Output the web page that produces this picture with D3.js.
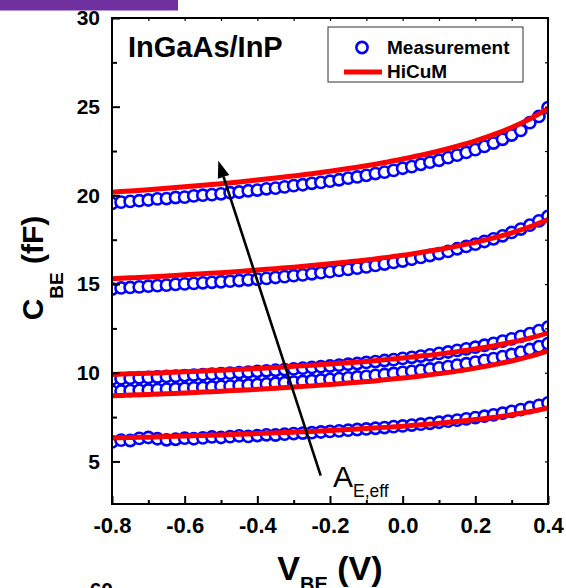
<!DOCTYPE html>
<html>
<head>
<meta charset="utf-8">
<script src="https://cdn.jsdelivr.net/npm/d3@7/dist/d3.min.js"></script>
<style>
  html, body { margin: 0; padding: 0; background: #fff; }
  svg { display: block; }
  text { font-family: "Liberation Sans", Arial, Helvetica, sans-serif; }
</style>
</head>
<body>
<svg id="chart" width="566" height="588"></svg>
<script>
// ---------- DATA ----------
const vMeas = [-0.8,-0.775,-0.75,-0.725,-0.7,-0.675,-0.65,-0.625,-0.6,-0.575,-0.55,-0.525,-0.5,-0.475,-0.45,-0.425,-0.4,-0.375,-0.35,-0.325,-0.3,-0.275,-0.25,-0.225,-0.2,-0.175,-0.15,-0.125,-0.1,-0.075,-0.05,-0.025,0,0.025,0.05,0.075,0.1,0.125,0.15,0.175,0.2,0.225,0.25,0.275,0.3,0.325,0.35,0.375,0.4];

const measA = [19.55,19.62,19.66,19.70,19.74,19.80,19.82,19.88,19.90,19.97,20.01,20.04,20.09,20.15,20.19,20.26,20.30,20.37,20.41,20.48,20.55,20.60,20.68,20.73,20.80,20.88,20.97,21.04,21.13,21.23,21.31,21.41,21.53,21.62,21.75,21.87,21.98,22.13,22.27,22.42,22.58,22.76,22.95,23.16,23.40,23.66,24.10,24.45,24.95];
const measB = [14.72,14.78,14.81,14.84,14.88,14.91,14.94,14.98,15.01,15.04,15.07,15.10,15.13,15.16,15.20,15.24,15.28,15.32,15.37,15.42,15.47,15.52,15.58,15.64,15.70,15.77,15.83,15.90,15.97,16.05,16.13,16.22,16.30,16.40,16.50,16.61,16.72,16.84,16.99,17.12,17.25,17.40,17.55,17.72,17.91,18.10,18.32,18.56,18.82];
const measC = [9.65,9.67,9.69,9.72,9.74,9.76,9.79,9.81,9.84,9.87,9.89,9.92,9.95,9.98,10.01,10.04,10.08,10.11,10.14,10.18,10.22,10.26,10.30,10.34,10.38,10.43,10.48,10.52,10.58,10.63,10.69,10.74,10.81,10.87,10.94,11.01,11.09,11.17,11.26,11.35,11.44,11.55,11.66,11.78,11.91,12.05,12.21,12.38,12.57];
const measD = [8.95,8.97,8.99,9.01,9.03,9.05,9.08,9.10,9.12,9.15,9.17,9.20,9.23,9.25,9.28,9.31,9.34,9.37,9.41,9.44,9.47,9.51,9.55,9.59,9.63,9.67,9.71,9.76,9.80,9.85,9.90,9.96,10.02,10.08,10.14,10.21,10.28,10.35,10.43,10.51,10.60,10.70,10.80,10.91,11.03,11.16,11.31,11.47,11.64];
const measE = [6.10,6.20,6.18,6.30,6.35,6.28,6.22,6.25,6.31,6.28,6.33,6.38,6.35,6.40,6.44,6.41,6.46,6.50,6.49,6.54,6.57,6.60,6.62,6.66,6.69,6.72,6.76,6.80,6.83,6.87,6.91,6.96,7.00,7.05,7.10,7.15,7.21,7.27,7.33,7.40,7.47,7.55,7.63,7.72,7.82,7.92,8.04,8.16,8.30];

const vFit = [-0.8,-0.75,-0.7,-0.65,-0.6,-0.55,-0.5,-0.45,-0.4,-0.35,-0.3,-0.25,-0.2,-0.15,-0.1,-0.05,0,0.05,0.1,0.15,0.2,0.25,0.3,0.35,0.4];
const fitA = [20.18,20.25,20.32,20.40,20.49,20.57,20.66,20.76,20.87,20.98,21.10,21.22,21.36,21.51,21.67,21.85,22.05,22.26,22.50,22.77,23.07,23.42,23.83,24.31,24.89];
const fitB = [15.30,15.35,15.40,15.46,15.52,15.58,15.64,15.71,15.79,15.87,15.95,16.04,16.14,16.25,16.36,16.49,16.62,16.78,16.95,17.14,17.35,17.60,17.89,18.23,18.64];
const fitC = [9.90,9.94,9.97,10.01,10.05,10.10,10.14,10.19,10.24,10.30,10.36,10.42,10.49,10.56,10.64,10.73,10.83,10.94,11.05,11.19,11.34,11.51,11.72,11.95,12.24];
const fitD = [8.70,8.74,8.78,8.82,8.86,8.91,8.96,9.01,9.07,9.13,9.19,9.26,9.34,9.42,9.50,9.60,9.70,9.82,9.95,10.09,10.26,10.45,10.66,10.92,11.24];
const fitE = [6.32,6.35,6.37,6.40,6.43,6.46,6.49,6.53,6.57,6.61,6.65,6.69,6.74,6.80,6.86,6.92,6.99,7.07,7.15,7.25,7.36,7.48,7.63,7.80,8.01];

const xMajor = [-0.8,-0.6,-0.4,-0.2,0,0.2,0.4];
const xMajorLabels = ["-0.8","-0.6","-0.4","-0.2","0.0","0.2","0.4"];
const xMinor = [-0.7,-0.5,-0.3,-0.1,0.1,0.3];
const yMajor = [5,10,15,20,25,30];
const yMajorLabels = ["5","10","15","20","25","30"];
const yMinor = [7.5,12.5,17.5,22.5,27.5];

const seriesNames = ["Measurement","HiCuM"];
const titleText = "InGaAs/InP";

// ---------- LAYOUT ----------
const svg = d3.select("#chart");
const L = 112, R = 548, T = 18, B = 504;
const x = d3.scaleLinear().domain([-0.8, 0.4]).range([L, R]);
const y = d3.scaleLinear().domain([2.6, 30]).range([B, T]);

// purple strip at top-left (part of slide)
svg.append("rect").attr("x", 0).attr("y", 0).attr("width", 178).attr("height", 10.5).attr("fill", "#7030a0");

svg.append("defs").append("clipPath").attr("id", "plotclip")
  .append("rect").attr("x", L).attr("y", T).attr("width", R - L).attr("height", B - T);

const plot = svg.append("g").attr("clip-path", "url(#plotclip)");

// measurement circles
const measSets = [measA, measB, measC, measD, measE];
measSets.forEach(vals => {
  plot.append("g").selectAll("circle")
    .data(vals.map((c, i) => [vMeas[i], c]))
    .join("circle")
    .attr("cx", d => x(d[0]))
    .attr("cy", d => y(d[1]))
    .attr("r", 5.6)
    .attr("fill", "#fff")
    .attr("stroke", "#0000ff")
    .attr("stroke-width", 2.6);
});

// HiCuM lines
const line = d3.line().x(d => x(d[0])).y(d => y(d[1])).curve(d3.curveMonotoneX);
[fitA, fitB, fitC, fitD, fitE].forEach(vals => {
  plot.append("path")
    .datum(vals.map((c, i) => [vFit[i], c]))
    .attr("d", line)
    .attr("fill", "none")
    .attr("stroke", "#ff0000")
    .attr("stroke-width", 5);
});

// frame
svg.append("rect").attr("x", L).attr("y", T).attr("width", R - L).attr("height", B - T)
  .attr("fill", "none").attr("stroke", "#000").attr("stroke-width", 2);

function styleAxis(g) {
  g.select(".domain").remove();
  g.selectAll(".tick line").attr("stroke", "#000").attr("stroke-width", 2);
}

// bottom axis
const gx = svg.append("g").attr("transform", `translate(0,${B})`)
  .call(d3.axisBottom(x).tickValues(xMajor).tickSize(-8).tickSizeOuter(0).tickPadding(13)
    .tickFormat((d, i) => xMajorLabels[i]));
styleAxis(gx);
gx.selectAll("text").attr("fill", "#000").attr("font-size", 22).attr("font-weight", "bold")
  .attr("font-family", '"Liberation Sans", Arial, sans-serif');
const gxm = svg.append("g").attr("transform", `translate(0,${B})`)
  .call(d3.axisBottom(x).tickValues(xMinor).tickSize(-4).tickSizeOuter(0).tickFormat(""));
styleAxis(gxm);

// top axis
const gt = svg.append("g").attr("transform", `translate(0,${T})`)
  .call(d3.axisTop(x).tickValues(xMajor.concat(xMinor)).tickSize(-3).tickSizeOuter(0).tickFormat(""));
styleAxis(gt);
gt.selectAll(".tick line").attr("stroke-width", 1.2);

// left axis
const gy = svg.append("g").attr("transform", `translate(${L},0)`)
  .call(d3.axisLeft(y).tickValues(yMajor).tickSize(-8).tickSizeOuter(0).tickPadding(12)
    .tickFormat((d, i) => yMajorLabels[i]));
styleAxis(gy);
gy.selectAll("text").attr("fill", "#000").attr("font-size", 21).attr("font-weight", "bold")
  .attr("font-family", '"Liberation Sans", Arial, sans-serif');
const gym = svg.append("g").attr("transform", `translate(${L},0)`)
  .call(d3.axisLeft(y).tickValues(yMinor).tickSize(-5).tickSizeOuter(0).tickFormat(""));
styleAxis(gym);

// right axis
const gr = svg.append("g").attr("transform", `translate(${R},0)`)
  .call(d3.axisRight(y).tickValues(yMajor.concat(yMinor)).tickSize(-3).tickSizeOuter(0).tickFormat(""));
styleAxis(gr);
gr.selectAll(".tick line").attr("stroke-width", 1.2);

// axis titles
const xt = svg.append("text").attr("x", (L + R) / 2).attr("y", 580)
  .attr("text-anchor", "middle").attr("font-weight", "bold").attr("font-size", 34).attr("fill", "#000");
xt.append("tspan").text("V");
xt.append("tspan").attr("font-size", 20).attr("dy", 11).text("BE");
xt.append("tspan").attr("dy", -11).text("\u00a0(V)");

const yt = svg.append("text").attr("transform", "translate(43,268) rotate(-90)")
  .attr("text-anchor", "middle").attr("font-weight", "bold").attr("font-size", 30).attr("fill", "#000");
yt.append("tspan").text("C");
yt.append("tspan").attr("font-size", 19).attr("dy", 20).text("BE");
yt.append("tspan").attr("dy", -20).text("\u00a0(fF)");

// fragment of the next panel's axis label
svg.append("text").attr("x", 113).attr("y", 597).attr("text-anchor", "end")
  .attr("font-weight", "bold").attr("font-size", 21).attr("fill", "#000").text("60");

// in-plot title
svg.append("text").attr("x", 128).attr("y", 57).attr("font-weight", "bold").attr("font-size", 29)
  .attr("fill", "#000").text(titleText);

// legend
const lg = svg.append("g");
lg.append("rect").attr("x", 328).attr("y", 27).attr("width", 195).attr("height", 55)
  .attr("fill", "#fff").attr("stroke", "#333").attr("stroke-width", 1);
lg.append("circle").attr("cx", 362).attr("cy", 47.5).attr("r", 5.6)
  .attr("fill", "#fff").attr("stroke", "#0000ff").attr("stroke-width", 2.6);
lg.append("text").attr("x", 387).attr("y", 54).attr("font-weight", "bold").attr("font-size", 19)
  .attr("fill", "#000").text(seriesNames[0]);
lg.append("line").attr("x1", 344).attr("x2", 382).attr("y1", 72).attr("y2", 72)
  .attr("stroke", "#ff0000").attr("stroke-width", 5);
lg.append("text").attr("x", 387).attr("y", 78).attr("font-weight", "bold").attr("font-size", 19)
  .attr("fill", "#000").text(seriesNames[1]);

// arrow annotation
const tail = [x(-0.2256), y(4.195)];
const tip = [x(-0.5074), y(21.95)];
const ang = Math.atan2(tip[1] - tail[1], tip[0] - tail[0]);
const headLen = 17, headW = 6;
const base = [tip[0] - headLen * Math.cos(ang), tip[1] - headLen * Math.sin(ang)];
svg.append("line").attr("x1", tail[0]).attr("y1", tail[1]).attr("x2", base[0]).attr("y2", base[1])
  .attr("stroke", "#000").attr("stroke-width", 2.6);
svg.append("path").attr("d", d3.line()([
  tip,
  [base[0] + headW * Math.sin(ang), base[1] - headW * Math.cos(ang)],
  [base[0] - headW * Math.sin(ang), base[1] + headW * Math.cos(ang)]
]) + "Z").attr("fill", "#000");

const at = svg.append("text").attr("x", 333).attr("y", 487).attr("font-size", 30).attr("fill", "#000");
at.append("tspan").text("A");
at.append("tspan").attr("font-size", 17.5).attr("dy", 10).text("E,eff");
</script>
</body>
</html>
